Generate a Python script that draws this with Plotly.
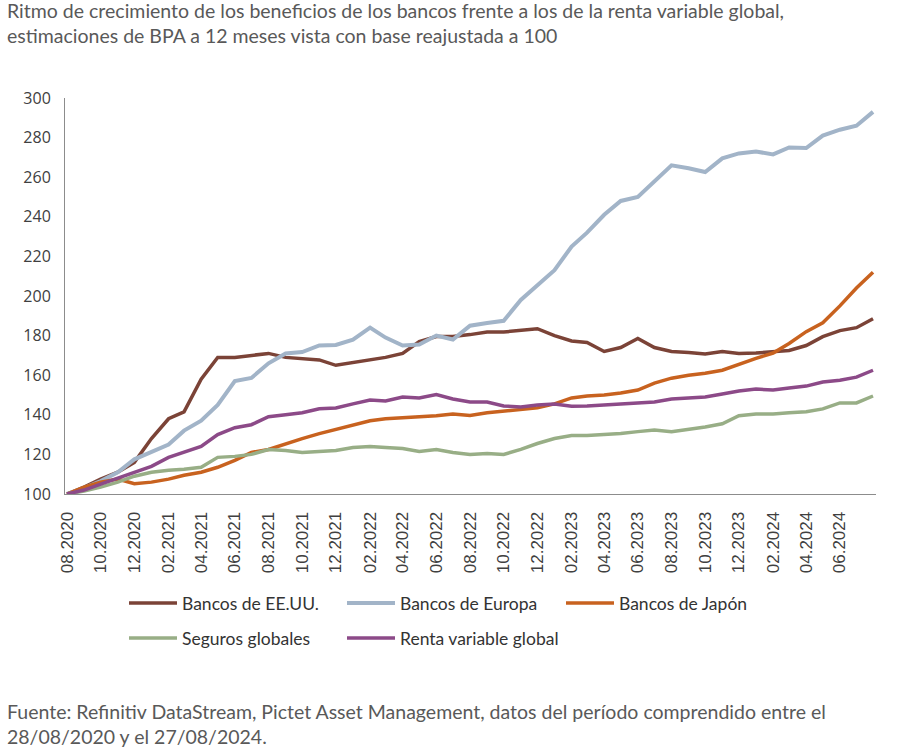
import pandas as pd
import plotly.graph_objects as go

# ---- data (monthly readings, base 100 on 28/08/2020) ----
start_date = "2020-08-28"
end_date = "2024-08-27"

bancos_eeuu = [100, 103.5, 107.5, 111, 116, 128, 138, 141.5, 158, 169,
               169, 170, 171, 169, 168.5, 167.7, 165, 166.5, 167.7, 169,
               171, 177, 179.5, 179.5, 180.5, 181.8, 181.8, 182.5, 183.5, 180,
               177.3, 176.5, 172, 174, 178.5, 174, 172, 171.5, 170.7, 172,
               171, 171.2, 171.7, 172.5, 175, 179.5, 182.5, 184, 188.5]
bancos_europa = [100, 103, 106.5, 111, 117.5, 121, 125, 132, 137, 145,
                 157, 158.6, 166, 171, 171.7, 175, 175.3, 178, 184, 179,
                 175, 175.5, 180, 178, 185, 186.4, 187.5, 198, 205.5, 213,
                 225, 232, 241, 248, 250, 258, 266, 264.5, 262.6, 269.5,
                 272, 273, 271.5, 275, 274.7, 281, 284, 286, 293]
bancos_japon = [100, 103.5, 106, 107.5, 105.2, 106, 107.5, 109.5, 111, 113.5,
                117, 121, 122.5, 125.5, 128, 130.5, 132.5, 135, 137, 138,
                138.4, 139, 139.5, 140.4, 139.7, 141, 141.8, 142.5, 143.5, 145.5,
                148.5, 149.5, 150, 151, 152.5, 156, 158.5, 160, 161, 162.5,
                165.5, 168.5, 171.2, 176, 182, 186.5, 195, 204, 212]
seguros_globales = [100, 101.5, 103.5, 106, 109, 111, 112, 112.5, 113.5, 118.5,
                    119, 120, 122.5, 122, 121, 121.5, 122, 123.5, 124, 123.5,
                    123, 121.5, 122.5, 121, 120, 120.5, 120, 122.5, 125.5, 128,
                    129.5, 129.5, 129.8, 130.5, 131.5, 132.3, 131.5, 132.5, 133.8, 135.5,
                    139.5, 140.4, 140.4, 141, 141.5, 143, 146, 146, 149.5]
renta_variable_global = [100, 102, 105, 108, 111, 114, 118.5, 121, 124, 130,
                         133.5, 135, 139, 140, 141, 143, 143.4, 145.5, 147.5, 147,
                         149, 148.5, 150.2, 148, 146.5, 146.5, 144.5, 144, 145, 145.5,
                         144.3, 144.5, 145, 145.5, 146, 146.5, 148, 148.5, 149, 150.5,
                         152, 153, 152.5, 153.5, 154.5, 156.6, 157.5, 159, 162.5]

series_names = ["Bancos de EE.UU.", "Bancos de Europa", "Bancos de Japón",
                "Seguros globales", "Renta variable global"]
series_values = [bancos_eeuu, bancos_europa, bancos_japon,
                 seguros_globales, renta_variable_global]
series_colors = ["#7b4337", "#a2b4c8", "#c8621f", "#98ae86", "#8c4a88"]
series_widths = [3.5, 4, 3.5, 3.5, 3.5]

dates = list(pd.date_range(start_date, periods=len(bancos_eeuu),
                           freq=pd.DateOffset(months=1)))
dates[-1] = pd.Timestamp(end_date)

tick_dates = list(pd.date_range(start_date, "2024-06-28",
                                freq=pd.DateOffset(months=2)))
tick_labels = [d.strftime("%m.%Y") for d in tick_dates]

title_text = ("Ritmo de crecimiento de los beneficios de los bancos frente a los de la renta variable global,"
              "<br>estimaciones de BPA a 12 meses vista con base reajustada a 100")
source_text = ("Fuente: Refinitiv DataStream, Pictet Asset Management, datos del período comprendido entre el"
               "<br>28/08/2020 y el 27/08/2024.")

# plot area in pixels
L, R, T, B = 65, 876, 98, 494
PW, PH = R - L, B - T


def px_x(px):
    return (px - L) / PW


def px_y(py):
    return (B - py) / PH


text_font = "Lato"
# legend placement (pixel position of each entry: left, center-y)
legend_pos = [(124, 603), (342, 603), (561, 603), (124, 638), (342, 638)]
legend_keys = ["legend", "legend2", "legend3", "legend4", "legend5"]

fig = go.Figure()
for name, vals, col, w, lg in zip(series_names, series_values, series_colors,
                                  series_widths, legend_keys):
    fig.add_trace(go.Scatter(x=dates, y=vals, name=name, mode="lines",
                             line=dict(color=col, width=w), legend=lg))

layout_legends = {}
for lg, (lx, ly) in zip(legend_keys, legend_pos):
    layout_legends[lg] = dict(orientation="h", x=px_x(lx), xanchor="left",
                              y=px_y(ly), yanchor="middle", itemwidth=48,
                              font=dict(family=text_font, size=17.5, color="#333333"),
                              bgcolor="rgba(0,0,0,0)")

fig.update_layout(
    width=900, height=747,
    margin=dict(l=L, r=900 - R, t=T, b=747 - B),
    paper_bgcolor="white", plot_bgcolor="white",
    showlegend=True,
    xaxis=dict(type="date",
               range=[pd.Timestamp(start_date) - pd.Timedelta(days=3.6),
                      pd.Timestamp(end_date) + pd.Timedelta(days=5.4)],
               tickvals=tick_dates, ticktext=tick_labels, tickangle=-90,
               showgrid=False, zeroline=False, showline=True,
               linecolor="#8c8c8c", linewidth=1, ticks="",
               ticklabelstandoff=10,
               tickfont=dict(family="Liberation Sans", size=17, color="#404040")),
    yaxis=dict(range=[100, 300], dtick=20, tick0=100,
               showgrid=False, zeroline=False, showline=True,
               linecolor="#8c8c8c", linewidth=1, ticks="",
               ticklabelstandoff=10,
               tickfont=dict(family="Open Sans", size=16, color="#404040")),
    annotations=[
        dict(text=title_text, x=px_x(5), xref="paper", xanchor="left",
             y=px_y(-3), yref="paper", yanchor="top",
             showarrow=False, align="left",
             font=dict(family=text_font, size=19.5, color="#595959")),
        dict(text=source_text, x=px_x(5), xref="paper", xanchor="left",
             y=px_y(698), yref="paper", yanchor="top",
             showarrow=False, align="left",
             font=dict(family=text_font, size=19.5, color="#595959")),
    ],
    **layout_legends,
)

fig.write_html("out.html")
